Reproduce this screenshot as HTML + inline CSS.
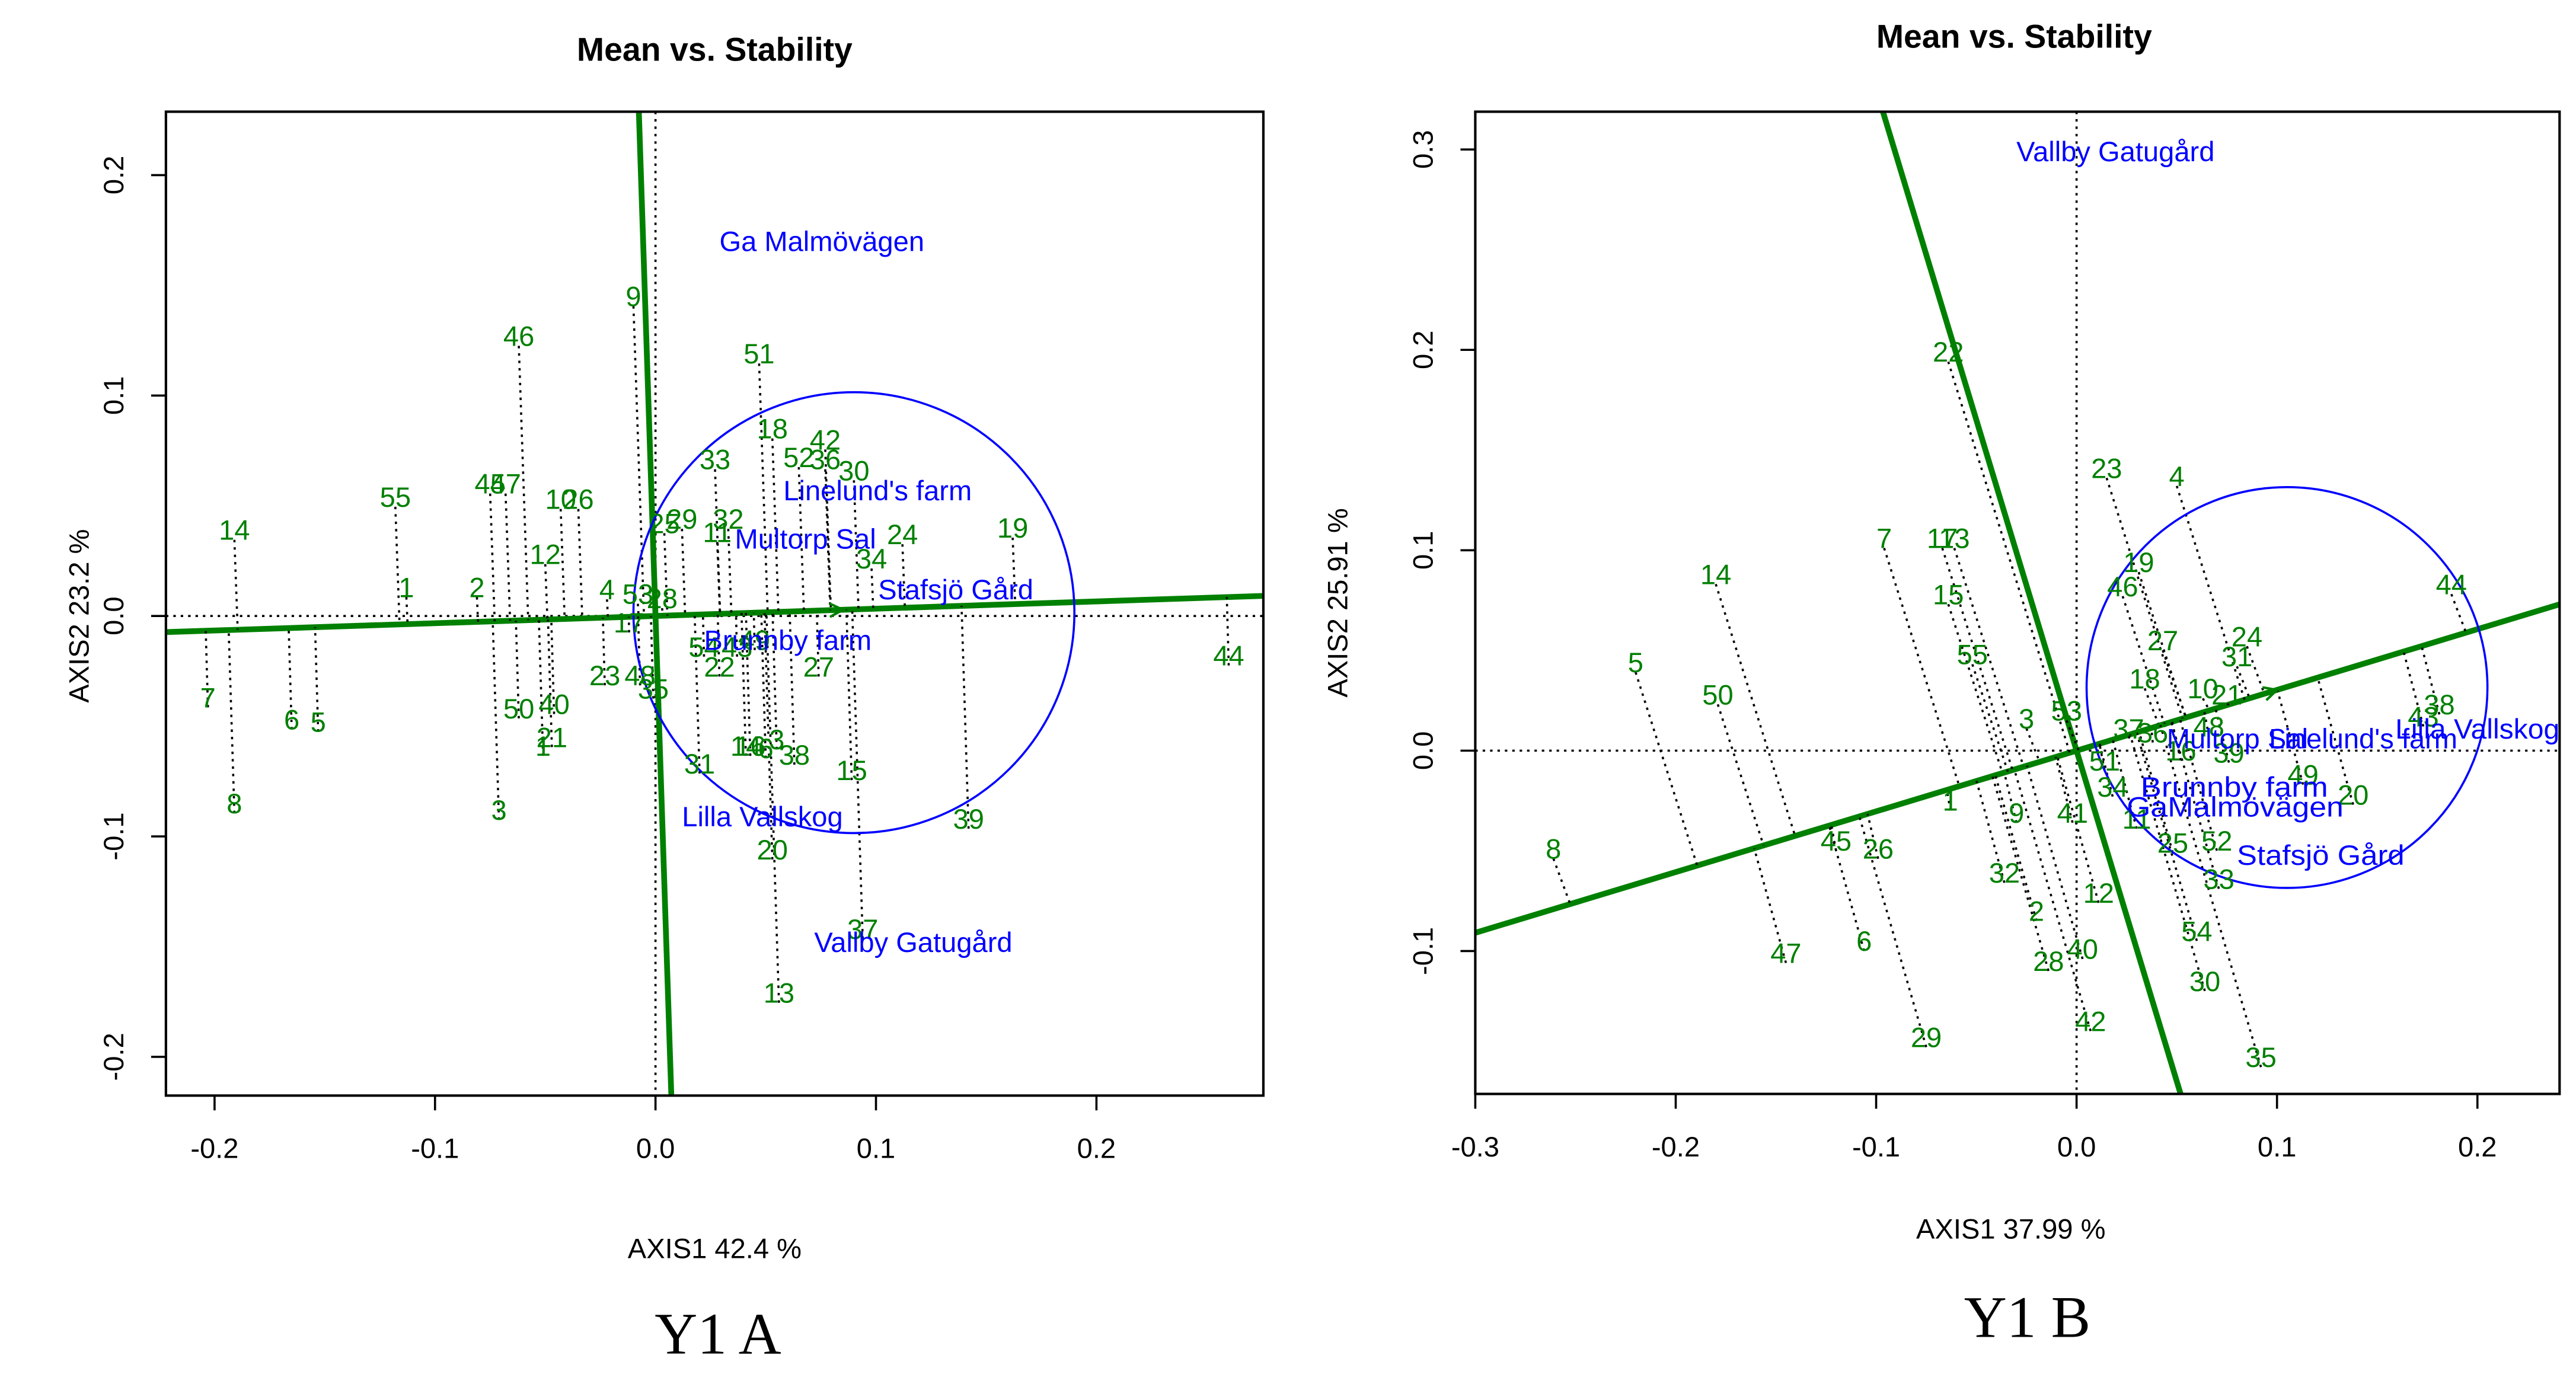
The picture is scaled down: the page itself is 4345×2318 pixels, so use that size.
<!DOCTYPE html>
<html><head><meta charset="utf-8"><style>
html,body{margin:0;padding:0;background:#fff;overflow:hidden;width:4345px;height:2318px}
svg{display:block}
text{font-family:"Liberation Sans",sans-serif}
text.serif{font-family:"Liberation Serif",serif}
</style></head><body>
<svg id="c" width="4345" height="2318" viewBox="0 0 1568 836.5" xmlns="http://www.w3.org/2000/svg">
<defs>
<clipPath id="clipL"><rect x="101" y="68" width="668" height="599"/></clipPath>
<clipPath id="clipR"><rect x="898" y="68" width="660" height="598"/></clipPath>
</defs>
</svg>
<script>
// ---------- DATA: panel A ----------
const genoLabelsA=["14","55","1","2","45","47","46","12","10","26","4","9","7","6","5","8","50","40","21","1","3","23","48","35","17","53","28","51","18","33","42","52","36","30","25","29","32","11","24","19","34","44","54","43","49","22","27","31","14","16","6","3","38","15","39","20","13","37"];
const genoXA=[-0.191,-0.118,-0.113,-0.081,-0.075,-0.068,-0.062,-0.050,-0.043,-0.035,-0.022,-0.010,-0.203,-0.165,-0.153,-0.191,-0.062,-0.046,-0.047,-0.051,-0.071,-0.023,-0.007,-0.001,-0.012,-0.008,0.003,0.047,0.053,0.027,0.077,0.065,0.077,0.090,0.004,0.012,0.033,0.028,0.112,0.162,0.098,0.260,0.022,0.037,0.045,0.029,0.074,0.020,0.041,0.043,0.050,0.055,0.063,0.089,0.142,0.053,0.056,0.094];
const genoYA=[0.039,0.054,0.013,0.013,0.060,0.060,0.127,0.028,0.053,0.053,0.012,0.145,-0.037,-0.047,-0.048,-0.085,-0.042,-0.040,-0.055,-0.059,-0.088,-0.027,-0.027,-0.033,-0.003,0.010,0.008,0.119,0.085,0.071,0.080,0.072,0.071,0.066,0.042,0.044,0.044,0.038,0.037,0.040,0.026,-0.018,-0.014,-0.014,-0.011,-0.023,-0.023,-0.067,-0.059,-0.059,-0.060,-0.056,-0.063,-0.070,-0.092,-0.106,-0.171,-0.142];
const envLabelsA=["Ga Malmövägen","Linelund's farm","Multorp Sal","Stafsjö Gård","Brunnby farm","Lilla Vallskog","Vallby Gatugård"];
const envXA=[0.029,0.058,0.036,0.101,0.022,0.012,0.072];
const envYA=[0.170,0.057,0.035,0.012,-0.011,-0.091,-0.148];
const meanA=[0.085,0.006];
const circleA=[0.090,0.0015,0.100];
const ticksXA=[-0.2,-0.1,0.0,0.1,0.2];
const ticksYA=[-0.2,-0.1,0.0,0.1,0.2];
const atcA=[1,0.033];
// ---------- DATA: panel B ----------
const genoLabelsB=["22","23","4","7","17","13","14","15","5","55","50","3","53","1","9","41","8","45","26","32","2","12","47","6","40","28","42","29","35","19","46","44","27","24","31","18","10","21","38","43","37","36","48","16","39","51","49","20","34","11","25","52","33","54","30"];
const genoXB=[-0.064,0.015,0.050,-0.096,-0.067,-0.061,-0.180,-0.064,-0.220,-0.052,-0.179,-0.025,-0.005,-0.063,-0.030,-0.002,-0.261,-0.120,-0.099,-0.036,-0.020,0.011,-0.145,-0.106,0.003,-0.014,0.007,-0.075,0.092,0.031,0.023,0.187,0.043,0.085,0.080,0.034,0.063,0.075,0.181,0.173,0.026,0.038,0.066,0.052,0.076,0.014,0.113,0.138,0.018,0.030,0.048,0.070,0.071,0.060,0.064];
const genoYB=[0.199,0.141,0.137,0.106,0.106,0.106,0.088,0.078,0.044,0.048,0.028,0.016,0.020,-0.025,-0.031,-0.031,-0.049,-0.045,-0.049,-0.061,-0.080,-0.071,-0.101,-0.095,-0.099,-0.105,-0.135,-0.143,-0.153,0.094,0.082,0.083,0.055,0.057,0.047,0.036,0.031,0.028,0.023,0.017,0.011,0.009,0.012,0.000,-0.001,-0.005,-0.012,-0.022,-0.018,-0.034,-0.046,-0.045,-0.064,-0.090,-0.115];
const envLabelsB=["Vallby Gatugård","Multorp Sal","Linelund's farm","Lilla  Vallskog","Brunnby farm","GaMalmövägen","Stafsjö Gård"];
const envXB=[-0.030,0.045,0.096,0.159,0.032,0.025,0.080];
const envYB=[0.299,0.006,0.006,0.011,-0.018,-0.028,-0.052];
const envWB=[null,null,null,100,114,132,102];
const meanB=[0.100,0.030];
const circleB=[0.105,0.0315,0.100];
const ticksXB=[-0.3,-0.2,-0.1,0.0,0.1,0.2];
const ticksYB=[-0.1,0.0,0.1,0.2,0.3];
const atcB=[1,0.303];

const svg=document.getElementById('c');
const NS='http://www.w3.org/2000/svg';
function mk(tag,attrs,parent){const e=document.createElementNS(NS,tag);for(const k in attrs)e.setAttribute(k,attrs[k]);(parent||svg).appendChild(e);return e;}
const G='#008000',B='#0000ff';

function clipSeg(P,px,py,vx,vy){
  // line through pixel (px,py) with pixel direction (vx,vy); return endpoints inside box
  let lo=-1e9,hi=1e9;
  const lim=(p,v,a,b)=>{ if(Math.abs(v)<1e-9) return; let t1=(a-p)/v,t2=(b-p)/v; if(t1>t2)[t1,t2]=[t2,t1]; lo=Math.max(lo,t1); hi=Math.min(hi,t2); };
  lim(px,vx,P.bx,P.bx+P.bw); lim(py,vy,P.by,P.by+P.bh);
  return [px+vx*lo,py+vy*lo,px+vx*hi,py+vy*hi];
}

function panel(P){
  const sx=v=>P.ox+v*P.s, sy=v=>P.oy-v*P.s;
  const g=mk('g',{'clip-path':'url(#'+P.clip+')'});
  
  
  let e=mk('line',{x1:P.bx,x2:P.bx+P.bw,y1:sy(0),y2:sy(0),stroke:'#000','stroke-width':1.3,'stroke-dasharray':'1.5 3'},g);
  
  e=mk('line',{x1:sx(0),x2:sx(0),y1:P.by,y2:P.by+P.bh,stroke:'#000','stroke-width':1.3,'stroke-dasharray':'1.5 3'},g);
  
  const [dx,dy]=P.atc; const n=Math.hypot(dx,dy); const ux=dx/n,uy=dy/n;
  let s=clipSeg(P,sx(0),sy(0),ux,-uy);
  e=mk('line',{x1:s[0],y1:s[1],x2:s[2],y2:s[3],stroke:G,'stroke-width':3.5},g);
  
  s=clipSeg(P,sx(0),sy(0),uy,ux);
  e=mk('line',{x1:s[0],y1:s[1],x2:s[2],y2:s[3],stroke:G,'stroke-width':3.5},g);
  
  P.gl.forEach((lab,i)=>{
    const x=P.gx[i],y=P.gy[i]; const t=x*ux+y*uy;
    const l=mk('line',{x1:sx(x),y1:sy(y)+6,x2:sx(t*ux),y2:sy(t*uy),stroke:'#000','stroke-width':1.3,'stroke-dasharray':'1.5 3'},g);
    
    
  });
  e=mk('circle',{cx:sx(P.circ[0]),cy:sy(P.circ[1]),r:P.circ[2]*P.s,fill:'none',stroke:B,'stroke-width':1.3},g);
  
  const mx=sx(P.mean[0]*1),my=sy(P.mean[0]*uy/ux);
  const ang=Math.atan2(-uy,ux);
  const a1=ang+Math.PI*0.85,a2=ang-Math.PI*0.85;
  e=mk('polyline',{points:`${mx+9*Math.cos(a1)},${my+9*Math.sin(a1)} ${mx},${my} ${mx+9*Math.cos(a2)},${my+9*Math.sin(a2)}`,fill:'none',stroke:G,'stroke-width':1.5},g);
  
  P.gl.forEach((lab,i)=>{
    const t=mk('text',{x:sx(P.gx[i]),y:sy(P.gy[i])+6,'text-anchor':'middle','font-size':17,fill:G},g);
    t.textContent=lab;
    
    
  });
  P.el.forEach((lab,i)=>{
    const at={x:sx(P.ex[i]),y:sy(P.ey[i])+6,'font-size':17,fill:B};
    if(P.ew&&P.ew[i]){at.textLength=P.ew[i];at.lengthAdjust='spacingAndGlyphs';}
    const t=mk('text',at,g);
    t.textContent=lab;
    
    
  });
  e=mk('rect',{x:P.bx,y:P.by,width:P.bw,height:P.bh,fill:'none',stroke:'#000','stroke-width':1.5});
  
  P.tx.forEach(v=>{
    const x=sx(v);
    let l=mk('line',{x1:x,x2:x,y1:P.by+P.bh,y2:P.by+P.bh+9,stroke:'#000','stroke-width':1.3});
    
    
    const t=mk('text',{x:x,y:P.by+P.bh+38,'text-anchor':'middle','font-size':17,fill:'#000'});
    t.textContent=v===0?'0.0':v.toFixed(1);
    
    
  });
  P.ty.forEach(v=>{
    const y=sy(v);
    let l=mk('line',{x1:P.bx,x2:P.bx-9,y1:y,y2:y,stroke:'#000','stroke-width':1.3});
    
    
    const tx=P.bx-26;
    const t=mk('text',{x:tx,y:y,'text-anchor':'middle','font-size':17,fill:'#000',transform:`rotate(-90 ${tx} ${y})`});
    t.textContent=v===0?'0.0':v.toFixed(1);
    
    
  });
  let t=mk('text',{x:P.titleX,y:P.titleY,'text-anchor':'middle','font-size':20,'font-weight':'bold'});
  t.textContent='Mean vs. Stability';
  t=mk('text',{x:P.xlX,y:P.xlY,'text-anchor':'middle','font-size':17});
  t.textContent=P.xl;
  t=mk('text',{x:P.ylX,y:P.ylY,'text-anchor':'middle','font-size':17,transform:`rotate(-90 ${P.ylX} ${P.ylY})`});
  t.textContent=P.yl;
  t=mk('text',{x:P.capX,y:P.capY,'text-anchor':'middle','font-size':36,'class':'serif'});
  t.textContent=P.cap;
}
panel({id:'panel-a',clip:'clipL',ox:399,oy:375,s:1342,bx:101,by:68,bw:668,bh:599,
  gl:genoLabelsA,gx:genoXA,gy:genoYA,el:envLabelsA,ex:envXA,ey:envYA,ew:null,mean:meanA,circ:circleA,atc:atcA,tx:ticksXA,ty:ticksYA,
  titleX:435,titleY:37,xl:'AXIS1 42.4 %',xlX:435,xlY:766,yl:'AXIS2 23.2 %',ylX:54,ylY:375,cap:'Y1 A',capX:437,capY:824});
panel({id:'panel-b',clip:'clipR',ox:1264,oy:457,s:1220,bx:898,by:68,bw:660,bh:598,
  gl:genoLabelsB,gx:genoXB,gy:genoYB,el:envLabelsB,ex:envXB,ey:envYB,ew:envWB,mean:meanB,circ:circleB,atc:atcB,tx:ticksXB,ty:ticksYB,
  titleX:1226,titleY:29,xl:'AXIS1 37.99 %',xlX:1224,xlY:754,yl:'AXIS2 25.91 %',ylX:820,ylY:367,cap:'Y1 B',capX:1234,capY:814});
</script>
</body></html>
